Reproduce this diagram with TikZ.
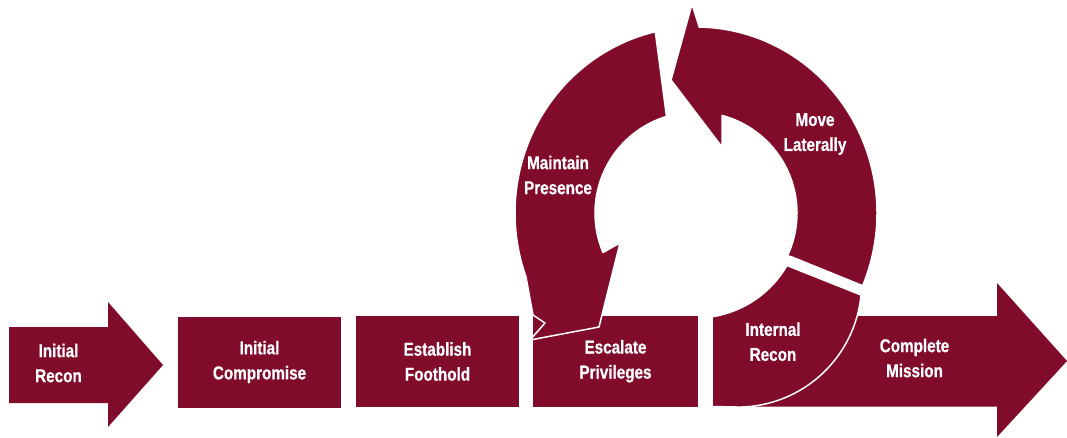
\documentclass[tikz,border=0pt]{standalone}
\usepackage{fontspec}
\newfontfamily\stagefont{Liberation Sans}[FakeStretch=0.82, FakeBold=0.6]
\definecolor{aptred}{RGB}{128,11,42}
\tikzset{
  stagetext/.style={text=white, align=center, inner sep=0pt,
    font=\stagefont\bfseries\fontsize{18.6}{25}\selectfont},
  stagebox/.style={stagetext, fill=aptred, minimum width=163pt, minimum height=91pt},
  piece/.style={fill=aptred, draw=white, line width=1.5pt, line join=round}
}
\begin{document}
\begin{tikzpicture}[x=1pt, y=-1pt]
  \useasboundingbox (0,0) rectangle (1067,437);
  \coordinate (ring) at (696,213);
  % straight stages
  \fill[aptred] (9,327) -- (108,327) -- (108,302) -- (163,365) -- (108,427) -- (108,403) -- (9,403) -- cycle;
  \node[stagetext] (recon) at (58.5,363) {Initial\\Recon};
  \node[stagebox] (compromise) at (259.5,362) {Initial\\Compromise};
  \node[stagebox] (foothold) at (437.5,361.5) {Establish\\Foothold};
  \node[stagebox, minimum width=165pt] (escalate) at (615.5,361.25) {Escalate\\Privileges};
  \fill[aptred] (712,316) -- (997,316) -- (997,283) -- (1067,361) -- (997,437) -- (997,406.5) -- (712,406.5) -- cycle;
  \node[stagetext] (mission) at (914.5,358) {Complete\\Mission};
  % the loop
  \draw[piece, shift={(ring)}] (16,193.5) -- (81.2:105) arc[start angle=81.2, end angle=30, radius=105]
    -- (165,82) arc[start angle=5.5, end angle=88.7, radius=124] -- cycle;
  \draw[piece, shift={(ring)}] (23:181 and 186) arc[start angle=23, end angle=-89, x radius=181, y radius=186]
    -- (-4,-209) -- (-25,-133) -- (26,-66) -- (-75:101) arc[start angle=-75, end angle=25, radius=101] -- (96,44) -- cycle;
  \draw[piece, shift={(ring)}] (257:181 and 186) arc[start angle=257, end angle=160, x radius=181, y radius=186]
    -- (-163,102) -- (-151,110) -- (-166,127) -- (-97,114) -- (-76,30) -- (157:101)
    arc[start angle=157, end angle=253, radius=101] -- cycle;
  \node[stagetext] (internal) at (773,341.7) {Internal\\Recon};
  \node[stagetext] (lateral) at (815,134) {Move\\Laterally};
  \node[stagetext] (presence) at (558,175) {Maintain\\Presence};
\end{tikzpicture}
\end{document}
